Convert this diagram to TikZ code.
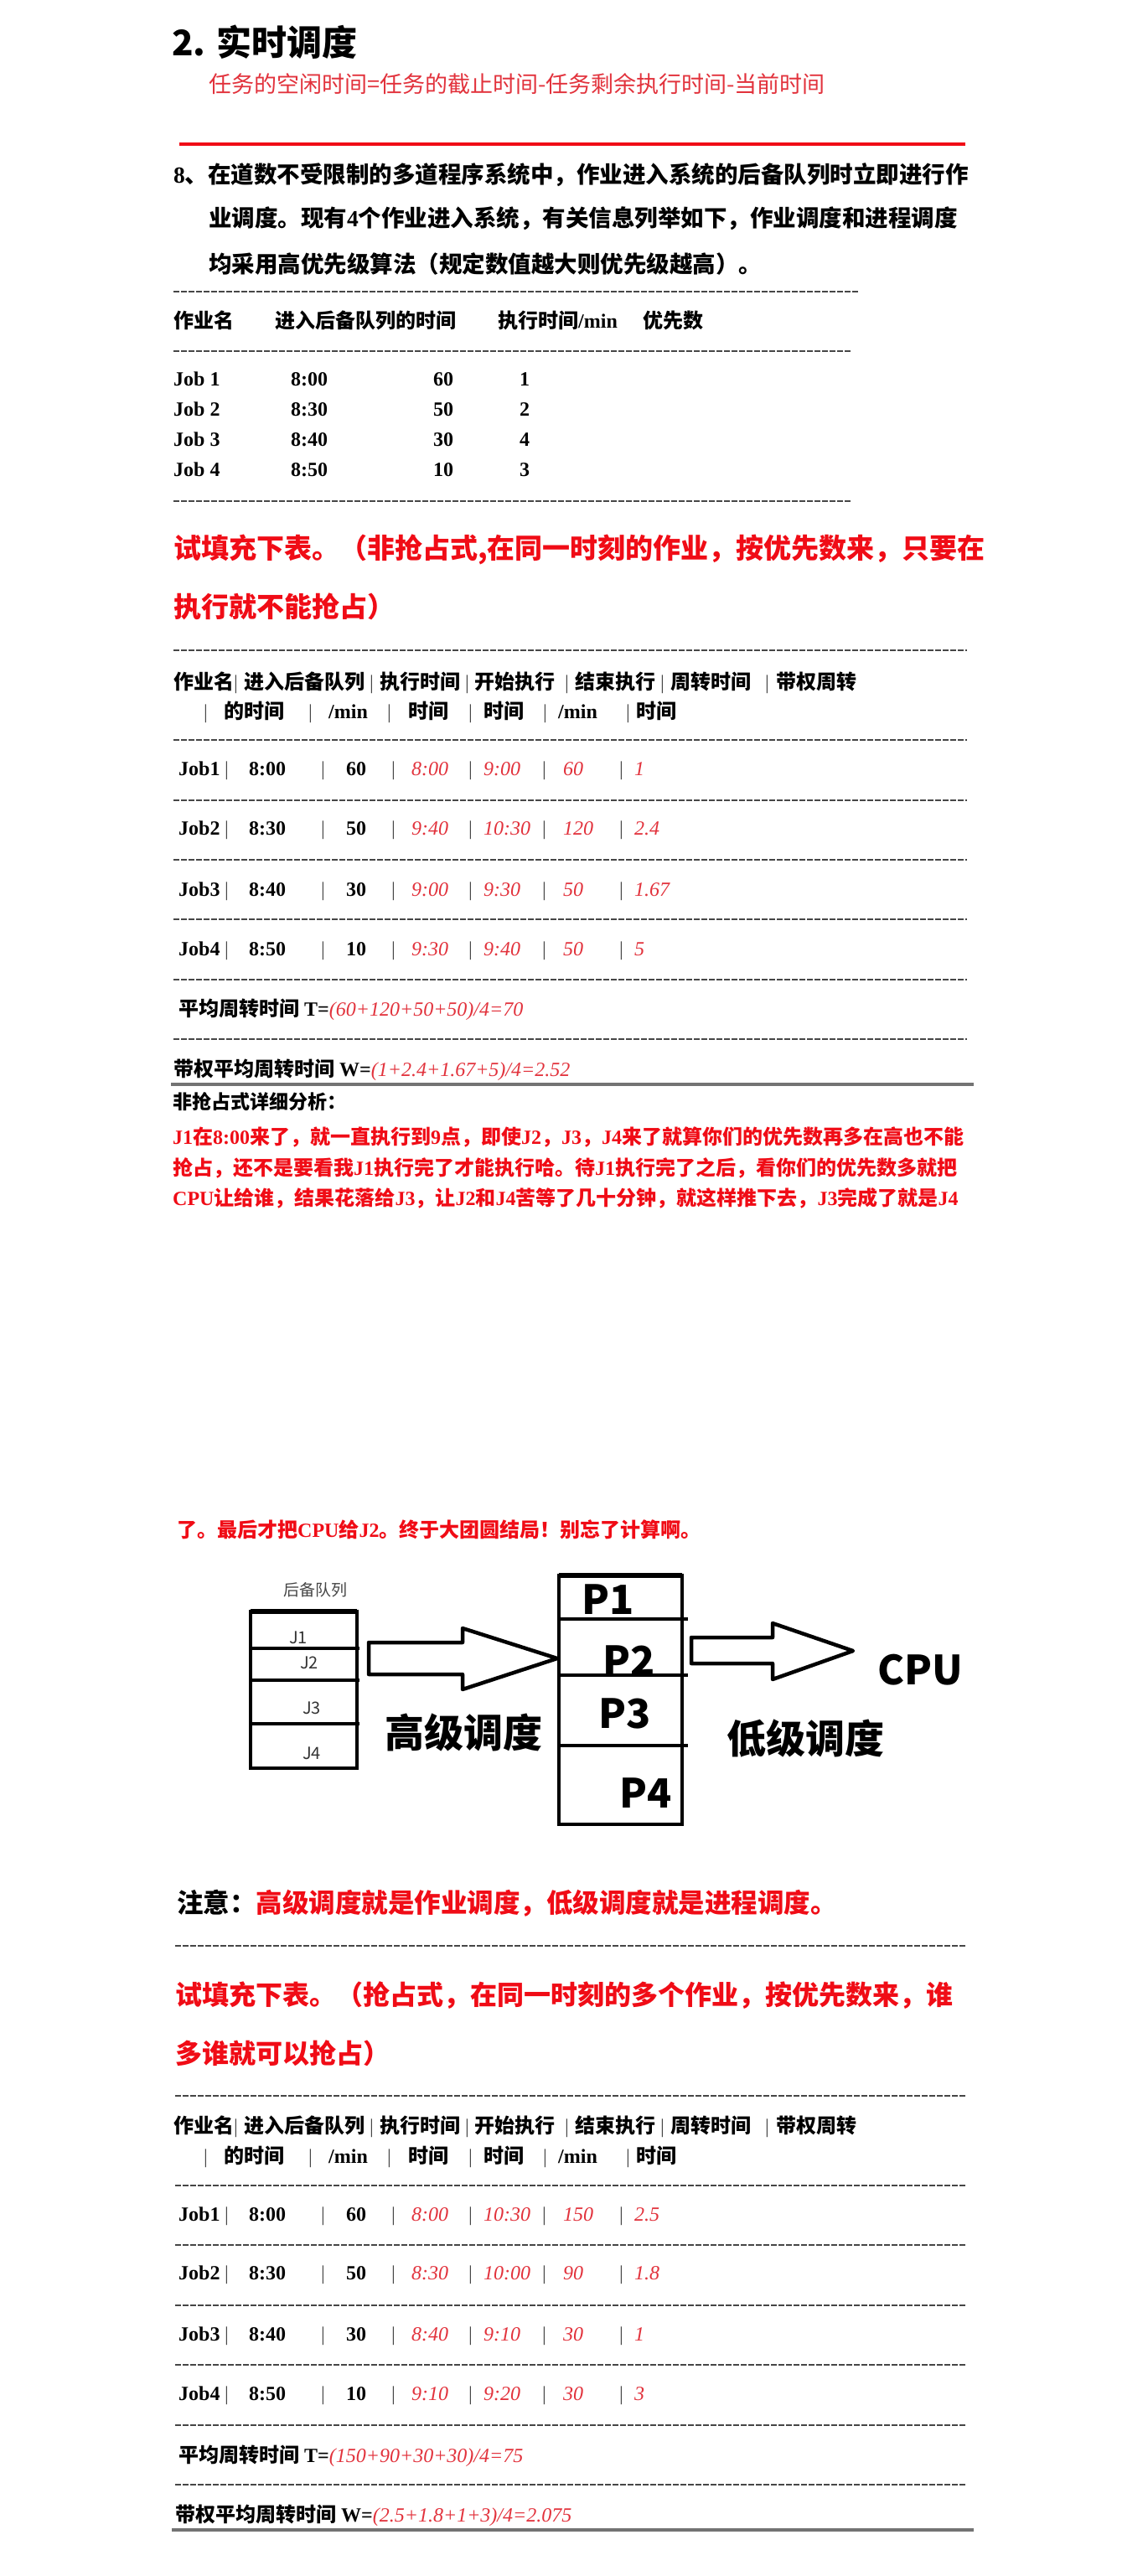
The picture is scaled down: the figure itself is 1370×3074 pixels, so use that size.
\documentclass[tikz,border=0pt]{standalone}
\usepackage{fontspec}
\usepackage{xcolor}
\setmainfont{Liberation Serif}
\newfontfamily\zh{Noto Sans CJK SC}
\newcommand\setfs[1]{\fontsize{#1}{#1}\selectfont}
\newcommand\rom[1]{{\rmfamily #1}}
\newcommand\redit[1]{{\color{softred}\rmfamily\mdseries\itshape #1}}
\definecolor{hotred}{RGB}{240,12,22}
\definecolor{softred}{RGB}{226,50,60}
\definecolor{inkgray}{RGB}{70,70,70}

\tikzset{
  txt/.style={anchor=base west, inner sep=0pt},
  zhb/.style={txt, font=\zh\bfseries\setfs{24}},
  numb/.style={txt, font=\rmfamily\bfseries\setfs{24}},
  redval/.style={txt, text=softred, font=\rmfamily\itshape\setfs{24}},
  pipe/.style={txt, text=inkgray, font=\rmfamily\setfs{24}},
  ask/.style={txt, text=hotred, font=\zh\bfseries\setfs{33}},
  dashrule/.style={inkgray, line width=2pt, dash pattern=on 7pt off 2pt},
  solidrule/.style={black!55, line width=4pt},
  boxline/.style={line width=4.5pt},
  blockarrow/.style={line width=4.5pt, line join=round},
}

\begin{document}
\begin{tikzpicture}[x=1pt,y=-1pt]
    \fill[white] (0,0) rectangle (1370,3074);
    \useasboundingbox (0,0) rectangle (1370,3074);
    % Title and formula
    \node[txt, font=\zh\bfseries\setfs{42}] (title) at (205,66) {2. 实时调度};
    \node[txt, text=softred, font=\zh\setfs{27}] (idle) at (249,110) {任务的空闲时间=任务的截止时间-任务剩余执行时间-当前时间};
    \draw[line width=4pt, hotred] (214,172) -- (1152,172);
    % Question
    \node[txt, font=\zh\bfseries\setfs{27.5}] (q1) at (207,218) {\rom{8}、在道数不受限制的多道程序系统中，作业进入系统的后备队列时立即进行作};
    \node[txt, font=\zh\bfseries\setfs{27.5}] (q2) at (249,270) {业调度。现有\rom{4}个作业进入系统，有关信息列举如下，作业调度和进程调度};
    \node[txt, font=\zh\bfseries\setfs{27.5}] (q3) at (249,325) {均采用高优先级算法（规定数值越大则优先级越高）。};
    % Given data
    \draw[dashrule] (207,348) -- (1024,348);
    \draw[dashrule] (207,419) -- (1015,419);
    \draw[dashrule] (207,598) -- (1015,598);
    \node[zhb] (g-h1) at (207,391) {作业名};
    \node[zhb] (g-h2) at (328,391) {进入后备队列的时间};
    \node[zhb] (g-h3) at (594,391) {执行时间\rom{/min}};
    \node[zhb] (g-h4) at (767,391) {优先数};
    \foreach \j/\y/\ja/\jr/\jp in {1/460/8:00/60/1, 2/496/8:30/50/2, 3/532/8:40/30/4, 4/568/8:50/10/3}{
      \node[numb] (g\j-n) at (207,\y) {Job \j};
      \node[numb] (g\j-a) at (347,\y) {\ja};
      \node[numb] (g\j-r) at (517,\y) {\jr};
      \node[numb] (g\j-p) at (620,\y) {\jp};
    }
    % Non-preemptive task
    \node[ask] (ask1) at (207,666) {试填充下表。（非抢占式,在同一时刻的作业，按优先数来，只要在};
    \node[ask] (ask1b) at (207,736) {执行就不能抢占）};
    % Dashed rules of both tables
    \foreach \ry in {776,883,955,1026,1097,1169,1240}
      \draw[dashrule] (207,\ry) -- (1154,\ry);
    \foreach \ry in {2322,2501,2608,2679,2751,2822,2894,2965}
      \draw[dashrule] (209,\ry) -- (1152,\ry);
    % Table heads
    \foreach \tb/\ya/\yb in {n/822/857, p/2545/2581}{
      \node[zhb] (\tb-h1) at (207,\ya) {作业名};
      \node[zhb] (\tb-h2) at (291,\ya) {进入后备队列};
      \node[zhb] (\tb-h3) at (453,\ya) {执行时间};
      \node[zhb] (\tb-h4) at (566,\ya) {开始执行};
      \node[zhb] (\tb-h5) at (686,\ya) {结束执行};
      \node[zhb] (\tb-h6) at (800,\ya) {周转时间};
      \node[zhb] (\tb-h7) at (926,\ya) {带权周转};
      \foreach \x in {279,441,555,674,788,913}
        \node[pipe] (\tb-hbar\x) at (\x,\ya) {|};
      \node[zhb] (\tb-k1) at (267,\yb) {的时间};
      \node[numb] (\tb-k2) at (392,\yb) {/min};
      \node[zhb] (\tb-k3) at (487,\yb) {时间};
      \node[zhb] (\tb-k4) at (577,\yb) {时间};
      \node[numb] (\tb-k5) at (666,\yb) {/min};
      \node[zhb] (\tb-k6) at (759,\yb) {时间};
      \foreach \x in {243,368,462,559,648,747}
        \node[pipe] (\tb-kbar\x) at (\x,\yb) {|};
    }
    % Table rows
    \foreach \tb/\j/\y/\ja/\jr/\js/\je/\jt/\jw in {
        n/1/925/8:00/60/8:00/9:00/60/1,
        n/2/996/8:30/50/9:40/10:30/120/2.4,
        n/3/1069/8:40/30/9:00/9:30/50/1.67,
        n/4/1140/8:50/10/9:30/9:40/50/5,
        p/1/2650/8:00/60/8:00/10:30/150/2.5,
        p/2/2720/8:30/50/8:30/10:00/90/1.8,
        p/3/2793/8:40/30/8:40/9:10/30/1,
        p/4/2864/8:50/10/9:10/9:20/30/3}{
      \node[numb] (\tb\j-n) at (213,\y) {Job\j};
      \node[numb] (\tb\j-a) at (297,\y) {\ja};
      \node[numb] (\tb\j-r) at (413,\y) {\jr};
      \node[redval] (\tb\j-s) at (491,\y) {\js};
      \node[redval] (\tb\j-e) at (577,\y) {\je};
      \node[redval] (\tb\j-t) at (672,\y) {\jt};
      \node[redval] (\tb\j-w) at (757,\y) {\jw};
      \foreach \x in {268,383,467,559,647,739}
        \node[pipe] (\tb\j-bar\x) at (\x,\y) {|};
    }
    % Averages, first table
    \node[zhb] (n-avgT) at (213,1212) {平均周转时间\rom{ T=}\redit{(60+120+50+50)/4=70}};
    \node[zhb] (n-avgW) at (207,1284) {带权平均周转时间\rom{ W=}\redit{(1+2.4+1.67+5)/4=2.52}};
    \draw[solidrule] (204,1294) -- (1162,1294);
    % Analysis
    \node[txt, font=\zh\bfseries\setfs{23}] (why) at (206,1323) {非抢占式详细分析：};
    \node[txt, text=hotred, font=\zh\bfseries\setfs{24}] (why1) at (206,1365) {\rom{J1}在\rom{8:00}来了，就一直执行到\rom{9}点，即使\rom{J2}，\rom{J3}，\rom{J4}来了就算你们的优先数再多在高也不能};
    \node[txt, text=hotred, font=\zh\bfseries\setfs{24}] (why2) at (206,1402) {抢占，还不是要看我\rom{J1}执行完了才能执行哈。待\rom{J1}执行完了之后，看你们的优先数多就把};
    \node[txt, text=hotred, font=\zh\bfseries\setfs{24}] (why3) at (206,1438) {\rom{CPU}让给谁，结果花落给\rom{J3}，让\rom{J2}和\rom{J4}苦等了几十分钟，就这样推下去，\rom{J3}完成了就是\rom{J4}};
    \node[txt, text=hotred, font=\zh\bfseries\setfs{24}] (why4) at (211,1834) {了。最后才把\rom{CPU}给\rom{J2}。终于大团圆结局！别忘了计算啊。};
    % Backup queue
    \node[text=inkgray, font=\zh\setfs{19}] (qname) at (376,1897) {后备队列};
    \draw[boxline] (299,1923) rectangle (426,2110);
    \draw[line width=6pt] (299,1923) -- (426,1923);
    \foreach \dy in {1967,2005,2057}
      \draw[boxline] (299,\dy) -- (429,\dy);
    \node[text=black!80, font=\zh\setfs{20}] (J1) at (356,1954) {J1};
    \node[text=black!80, font=\zh\setfs{20}] (J2) at (369,1984) {J2};
    \node[text=black!80, font=\zh\setfs{20}] (J3) at (372,2038) {J3};
    \node[text=black!80, font=\zh\setfs{20}] (J4) at (372,2092) {J4};
    % High-level arrow
    \draw[blockarrow] (440,1960) -- (552,1960) -- (552,1943) -- (665,1979) -- (552,2016) -- (552,1998) -- (440,1998) -- cycle;
    \node[font=\zh\bfseries\setfs{47}] (hiS) at (553,2067) {高级调度};
    % Process box
    \draw[boxline] (667,1880) rectangle (814,2177);
    \draw[line width=6pt] (667,1880) -- (814,1880);
    \foreach \dy in {1932,1999,2083}
      \draw[boxline] (667,\dy) -- (821,\dy);
    \node[font=\zh\bfseries\setfs{48}] (P1) at (726,1909) {P1};
    \node[font=\zh\bfseries\setfs{48}] (P2) at (751,1982) {P2};
    \node[font=\zh\bfseries\setfs{48}] (P3) at (746,2045) {P3};
    \node[font=\zh\bfseries\setfs{48}] (P4) at (771,2140) {P4};
    % Low-level arrow
    \draw[blockarrow] (825,1954) -- (922,1954) -- (922,1937) -- (1018,1970) -- (922,2004) -- (922,1985) -- (825,1985) -- cycle;
    \node[font=\zh\bfseries\setfs{47}] (loS) at (961,2075) {低级调度};
    \node[font=\zh\bfseries\setfs{48}] (cpu) at (1098,1993) {CPU};
    % Note
    \node[txt, font=\zh\bfseries\setfs{31.5}] (note) at (211,2282) {注意：\textcolor{hotred}{高级调度就是作业调度，低级调度就是进程调度。}};
    % Preemptive task
    \node[ask, font=\zh\bfseries\setfs{32}] (ask2) at (209,2392) {试填充下表。（抢占式，在同一时刻的多个作业，按优先数来，谁};
    \node[ask, font=\zh\bfseries\setfs{32}] (ask2b) at (209,2462) {多谁就可以抢占）};
    % Averages, second table
    \node[zhb] (p-avgT) at (213,2938) {平均周转时间\rom{ T=}\redit{(150+90+30+30)/4=75}};
    \node[zhb] (p-avgW) at (209,3009) {带权平均周转时间\rom{ W=}\redit{(2.5+1.8+1+3)/4=2.075}};
    \draw[solidrule] (205,3019) -- (1162,3019);
\end{tikzpicture}
\end{document}
